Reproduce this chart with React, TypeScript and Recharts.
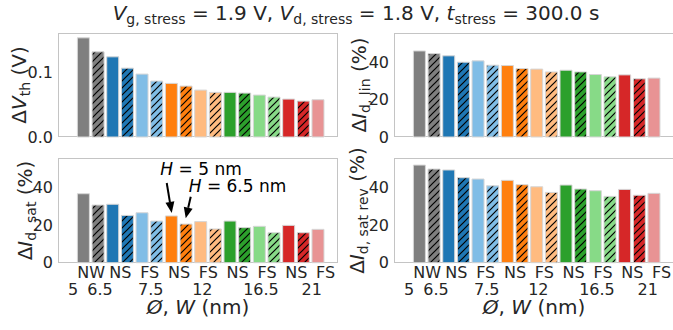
import React from 'react';
import { BarChart, Bar, Cell, XAxis, YAxis, Label, ReferenceDot } from 'recharts';

// one group per device; first bar = small size (Ø 5 nm / H = 5 nm), second (hatched) = Ø 6.5 nm / H = 6.5 nm
const groupKeys = ['NW', 'NS 7.5', 'FS 7.5', 'NS 12', 'FS 12', 'NS 16.5', 'FS 16.5', 'NS 21', 'FS 21'];
const groupNames = ['NW', 'NS', 'FS', 'NS', 'FS', 'NS', 'FS', 'NS', 'FS'];
const sizeLabels = [['5', '6.5'], [], ['7.5'], [], ['12'], [], ['16.5'], [], ['21']];

const dVthA = [0.1535, 0.1241, 0.0974, 0.083, 0.0726, 0.0691, 0.0649, 0.0587, 0.0577];
const dVthB = [0.1318, 0.1066, 0.0866, 0.0788, 0.0691, 0.068, 0.0618, 0.0556, null];

const dIdlinA = [46.0, 43.4, 40.7, 38.2, 36.3, 35.7, 33.4, 33.2, 31.5];
const dIdlinB = [44.6, 40.0, 38.4, 36.6, 34.8, 34.8, 32.2, 31.1, null];

const dIdsatA = [36.6, 31.0, 26.5, 24.8, 21.8, 22.1, 19.3, 19.8, 17.7];
const dIdsatB = [30.6, 25.1, 22.1, 20.5, 17.9, 18.6, 15.9, 15.9, null];

const dIdsatRevA = [51.8, 49.2, 44.4, 43.7, 40.3, 41.2, 38.2, 38.9, 36.8];
const dIdsatRevB = [49.7, 45.1, 40.8, 41.4, 37.3, 39.1, 35.2, 35.8, null];

const colors = ['#7f7f7f', '#1f77b4', '#80bde6', '#ff7f0e', '#ffbb80', '#2ca02c', '#87da87', '#d62728', '#e89394'];

const FONT = 'DejaVu Sans';
const INK = '#262626';
// horizontal nudges of the size row, relative to the group tick
const sizeShift = [[-18, 9], [], [1], [], [-6], [], [-6], [], [-14]];

type Frame = { x: number; y: number; w: number; h: number };

const makeRows = (a: (number | null)[], b: (number | null)[]) =>
    groupKeys.map((key, i) => ({ key, a: a[i], b: b[i] }));

function XTick(props: any) {
    const x = Number(props.x);
    const y = Number(props.y);
    const i = groupKeys.indexOf(props.payload?.value);
    if (i < 0) return null;
    return (
        <text textAnchor="middle" fontFamily={FONT} fontSize={16} fill={INK}>
            <tspan x={x} y={y + 15.6}>{groupNames[i]}</tspan>
            {sizeLabels[i].map((s, k) => (
                <tspan key={`${i}-${k}`} x={x + sizeShift[i][k]} y={y + 32.3}>{s}</tspan>
            ))}
        </text>
    );
}

function Arrow({ tip, tail }: { tip: [number, number]; tail: [number, number] }) {
    const dx = tip[0] - tail[0];
    const dy = tip[1] - tail[1];
    const len = Math.hypot(dx, dy);
    const ux = dx / len, uy = dy / len;
    const bx = tip[0] - ux * 11, by = tip[1] - uy * 11;
    const nx = -uy * 4.5, ny = ux * 4.5;
    return (
        <g>
            <line x1={tail[0]} y1={tail[1]} x2={bx} y2={by} stroke="#000" strokeWidth={2} />
            <polygon points={`${tip[0]},${tip[1]} ${bx + nx},${by + ny} ${bx - nx},${by - ny}`} fill="#000" />
        </g>
    );
}

function YTitle({ sym, sub, unit }: { sym: string; sub: string; unit: string }) {
    return (
        <>
            <tspan>Δ</tspan>
            <tspan fontStyle="italic">{sym}</tspan>
            <tspan fontSize={14} dy={4}>{sub}</tspan>
            <tspan dy={-4}>{` (${unit})`}</tspan>
        </>
    );
}

type PanelProps = {
    rows: any[];
    frame: Frame;
    domain: [number, number];
    ticks: number[];
    fmt: (v: number) => string;
    title: { sym: string; sub: string; unit: string };
    titleGap: number;
    showX: boolean;
    notes?: boolean;
};

function Panel({ rows, frame, domain, ticks, fmt, title, titleGap, showX, notes }: PanelProps) {
    const plotW = frame.w + 2.3;
    const bottom = showX ? 330 - frame.y - frame.h - 60 : 330 - frame.y - frame.h;
    const cx = frame.x - titleGap;
    const cy = frame.y + frame.h / 2;
    return (
        <>
            <div
                style={{
                    position: 'absolute', left: frame.x, top: frame.y, width: frame.w, height: frame.h,
                    border: '1px solid #c4c4c4', boxSizing: 'border-box',
                }}
            />
            <div style={{ position: 'absolute', left: 0, top: 0 }}>
                <BarChart
                    width={680}
                    height={330}
                    data={rows}
                    margin={{ top: frame.y, left: 0, right: 680 - frame.x - plotW, bottom }}
                    barSize={12}
                    barGap={2.67}
                >
                    <XAxis
                        dataKey="key"
                        hide={!showX}
                        height={60}
                        padding={{ left: 18.4, right: 0 }}
                        axisLine={false}
                        tickLine={false}
                        tickSize={0}
                        tickMargin={0}
                        interval={0}
                        tick={<XTick />}
                    >
                        {showX && (
                            <Label
                                content={() => (
                                    <text x={frame.x + frame.w / 2} y={314} textAnchor="middle" fontFamily={FONT} fontSize={20} fill={INK}>
                                        <tspan fontStyle="italic">Ø</tspan>
                                        <tspan>{', '}</tspan>
                                        <tspan fontStyle="italic">W</tspan>
                                        <tspan>{' (nm)'}</tspan>
                                    </text>
                                )}
                            />
                        )}
                    </XAxis>
                    <YAxis
                        width={frame.x}
                        domain={domain}
                        ticks={ticks}
                        tickFormatter={fmt}
                        axisLine={false}
                        tickLine={false}
                        tickSize={0}
                        tickMargin={5}
                        tick={{ fontSize: 16, fontFamily: FONT, fill: INK }}
                    >
                        <Label
                            content={() => (
                                <text
                                    x={cx}
                                    y={cy}
                                    transform={`rotate(-90, ${cx}, ${cy})`}
                                    textAnchor="middle"
                                    fontFamily={FONT}
                                    fontSize={20}
                                    fill={INK}
                                >
                                    <YTitle {...title} />
                                </text>
                            )}
                        />
                    </YAxis>
                    <Bar dataKey="a" stroke="#d6d6d6" strokeWidth={1} isAnimationActive={false}>
                        {rows.map((_, i) => (
                            <Cell key={`a-${i}`} fill={colors[i]} />
                        ))}
                    </Bar>
                    <Bar dataKey="b" stroke="#d6d6d6" strokeWidth={1} isAnimationActive={false}>
                        {rows.map((_, i) => (
                            <Cell key={`b-${i}`} fill={`url(#hatch-${i})`} />
                        ))}
                    </Bar>
                    {notes && (
                        <ReferenceDot
                            x="NS 12"
                            y={rows[3].a}
                            r={0}
                            ifOverflow="visible"
                            shape={(p: any) => {
                                const tip: [number, number] = [p.cx - 7.3, p.cy - 3];
                                return (
                                    <g>
                                        <Arrow tip={tip} tail={[tip[0] - 5, tip[1] - 30]} />
                                        <text x={tip[0] + 29.3} y={tip[1] - 38.3} textAnchor="middle" fontFamily={FONT} fontSize={17} fill="#000">
                                            <tspan fontStyle="italic">H</tspan>
                                            <tspan>{' = 5 nm'}</tspan>
                                        </text>
                                    </g>
                                );
                            }}
                        />
                    )}
                    {notes && (
                        <ReferenceDot
                            x="NS 12"
                            y={rows[3].b}
                            r={0}
                            ifOverflow="visible"
                            shape={(p: any) => {
                                const tip: [number, number] = [p.cx + 6.7, p.cy - 5.7];
                                return (
                                    <g>
                                        <Arrow tip={tip} tail={[tip[0] + 5, tip[1] - 21.6]} />
                                        <text x={tip[0] + 51.8} y={tip[1] - 26.8} textAnchor="middle" fontFamily={FONT} fontSize={17} fill="#000">
                                            <tspan fontStyle="italic">H</tspan>
                                            <tspan>{' = 6.5 nm'}</tspan>
                                        </text>
                                    </g>
                                );
                            }}
                        />
                    )}
                </BarChart>
            </div>
        </>
    );
}

const pct = (v: number) => `${v}`;

export default function App() {
    return (
        <div style={{ position: 'absolute', left: 0, top: 0, width: 673, height: 330, overflow: 'hidden', background: '#fff' }}>
            <svg width={0} height={0} style={{ position: 'absolute' }}>
                <defs>
                    {colors.map((c, i) => (
                        <pattern key={i} id={`hatch-${i}`} patternUnits="userSpaceOnUse" width={7} height={7}>
                            <rect width={7} height={7} fill={c} />
                            <path d="M0,7 L7,0 M-1,1 L1,-1 M6,8 L8,6" stroke="#000" strokeWidth={1.2} />
                        </pattern>
                    ))}
                </defs>
            </svg>
            <svg width={673} height={30} style={{ position: 'absolute', left: 0, top: 0 }}>
                <text x={356} y={19.5} textAnchor="middle" fontFamily={FONT} fontSize={20} fill={INK}>
                    <tspan fontStyle="italic">V</tspan>
                    <tspan fontSize={14} dy={4}>g, stress</tspan>
                    <tspan dy={-4}>{' = 1.9 V, '}</tspan>
                    <tspan fontStyle="italic">V</tspan>
                    <tspan fontSize={14} dy={4}>d, stress</tspan>
                    <tspan dy={-4}>{' = 1.8 V, '}</tspan>
                    <tspan fontStyle="italic">t</tspan>
                    <tspan fontSize={14} dy={4}>stress</tspan>
                    <tspan dy={-4}>{' = 300.0 s'}</tspan>
                </text>
            </svg>
            <Panel
                rows={makeRows(dVthA, dVthB)}
                frame={{ x: 58, y: 33, w: 280, h: 104 }}
                domain={[0, 0.161]}
                ticks={[0, 0.1]}
                fmt={(v) => v.toFixed(1)}
                title={{ sym: 'V', sub: 'th', unit: 'V' }}
                titleGap={32}
                showX={false}
            />
            <Panel
                rows={makeRows(dIdlinA, dIdlinB)}
                frame={{ x: 394, y: 33, w: 280, h: 104 }}
                domain={[0, 55.6]}
                ticks={[0, 20, 40]}
                fmt={pct}
                title={{ sym: 'I', sub: 'd, lin', unit: '%' }}
                titleGap={28}
                showX={false}
            />
            <Panel
                rows={makeRows(dIdsatA, dIdsatB)}
                frame={{ x: 58, y: 158.3, w: 280, h: 104.4 }}
                domain={[0, 55.4]}
                ticks={[0, 20, 40]}
                fmt={pct}
                title={{ sym: 'I', sub: 'd, sat', unit: '%' }}
                titleGap={26}
                showX
                notes
            />
            <Panel
                rows={makeRows(dIdsatRevA, dIdsatRevB)}
                frame={{ x: 394, y: 158.3, w: 280, h: 104.4 }}
                domain={[0, 55.4]}
                ticks={[0, 20, 40]}
                fmt={pct}
                title={{ sym: 'I', sub: 'd, sat rev', unit: '%' }}
                titleGap={30}
                showX
            />
        </div>
    );
}
